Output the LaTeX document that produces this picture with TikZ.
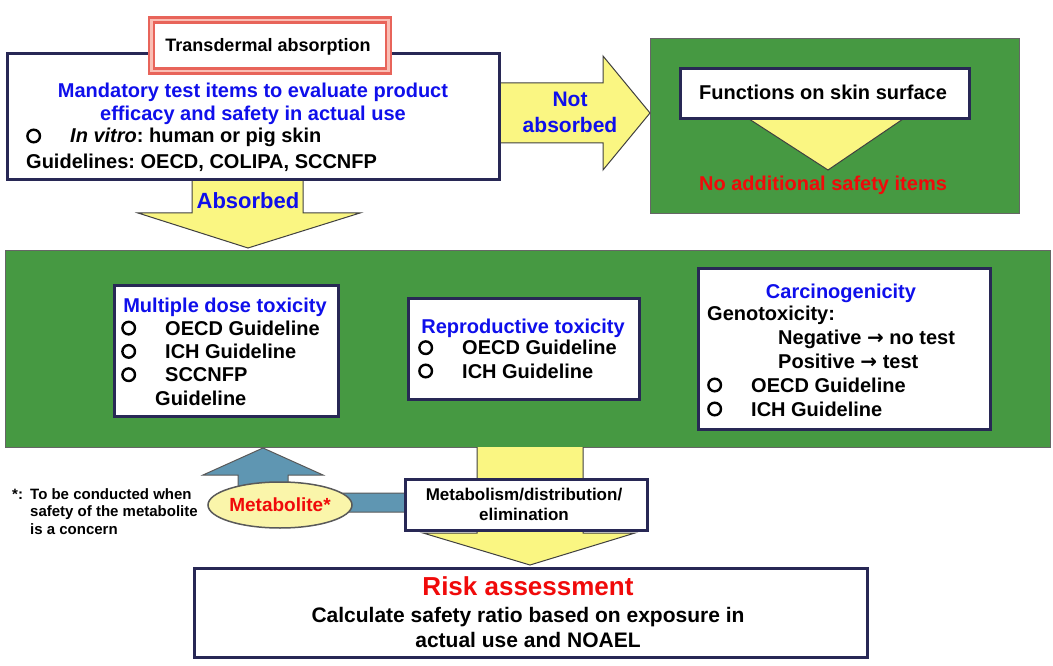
\documentclass[tikz,border=0pt]{standalone}
\usepackage{fontspec}
\setmainfont{Liberation Sans}
\newfontfamily\symfont{DejaVu Sans}
\usetikzlibrary{shapes.geometric}
\definecolor{leafgreen}{RGB}{70,153,66}
\definecolor{arrowyellow}{RGB}{250,246,130}
\definecolor{steelarrow}{RGB}{95,150,178}
\definecolor{boxnavy}{RGB}{40,40,85}
\definecolor{headblue}{RGB}{15,15,235}
\definecolor{alertred}{RGB}{240,10,10}
\definecolor{salmonred}{RGB}{232,100,90}
\definecolor{salmonpink}{RGB}{250,190,180}
\definecolor{ellfill}{RGB}{250,245,170}
\newcommand{\fsize}[2]{\fontsize{#1}{#2}\selectfont}
\newcommand{\ring}{\makebox[44pt][l]{\tikz[baseline=0pt]\draw[line width=2.4pt] (7.6pt,7pt) circle[radius=6.3pt];}}
\newcommand{\yields}{{\symfont →}}
\frenchspacing

\begin{document}
\begin{tikzpicture}[x=1pt,y=-1pt,inner sep=0pt]
\tikzstyle{greenbox}=[rectangle, anchor=north west, fill=leafgreen, draw=black!60, line width=1.2pt]
\tikzstyle{navybox}=[rectangle, anchor=north west, fill=white, draw=boxnavy, line width=3pt]
\tikzstyle{block}=[fill=arrowyellow, draw=black!75, line width=1pt, line join=miter]
\tikzstyle{txt}=[anchor=base, align=left, font=\bfseries\fsize{20}{23.3}]
\useasboundingbox (0,0) rectangle (1053,666);
% green panels
\node[greenbox, minimum width=369, minimum height=175] (skin) at (650,38) {};
\node[greenbox, minimum width=1045, minimum height=197] (tox) at (5,250) {};
% block arrows
\filldraw[block] (746,117) -- (906,117) -- (828,170) -- cycle;
\filldraw[block] (192,170) -- (192,213) -- (138,213) -- (248,248) -- (360,213) -- (303,213) -- (303,170);
\filldraw[block] (490,83) -- (603,83) -- (603,56) -- (650,113) -- (603,170) -- (603,143) -- (490,143);
\fill[arrowyellow] (477,447) -- (477,533) -- (423,533) -- (530,565) -- (635,533) -- (583,533) -- (583,447) -- cycle;
\draw[block, fill=none] (477,447) -- (477,533) -- (423,533) -- (530,565) -- (635,533) -- (583,533) -- (583,447);
\filldraw[block, fill=steelarrow, draw=black!65] (410,493) -- (288,493) -- (288,475) -- (323,475) -- (263,448) -- (203,475) -- (238,475) -- (238,512) -- (410,512);
% boxes
\node[navybox, minimum width=492, minimum height=126] (mand) at (6,52) {};
\node[rectangle, anchor=north west, fill=white, draw=salmonred, line width=2.5pt, double=salmonpink, double distance=2.5pt, minimum width=237, minimum height=51] (trans) at (150,19) {};
\node[navybox, minimum width=289, minimum height=50] (func) at (679,67) {};
\node[navybox, minimum width=224, minimum height=131] (multi) at (113,284) {};
\node[navybox, minimum width=231, minimum height=101] (repro) at (407,297) {};
\node[navybox, minimum width=292, minimum height=161] (carc) at (697,267) {};
\node[navybox, minimum width=242, minimum height=51] (metab) at (404,478) {};
\node[navybox, minimum width=673, minimum height=89] (risk) at (193,567) {};
\node[ellipse, fill=ellfill, draw=black!65, line width=1.5pt, minimum width=144, minimum height=46, text=alertred, font=\bfseries\fsize{19}{19}] (metabolite) at (280,505) {Metabolite*};
% texts (multi-line nodes sit on their last baseline)
\node[txt, font=\bfseries\fsize{18}{18}] (transtxt) at (268,52) {Transdermal absorption};
\node[txt, align=center, text=headblue] (mandhead) at (253,121) {Mandatory test items to evaluate product\\efficacy and safety in actual use};
\node[txt, anchor=base west, font=\bfseries\fsize{20}{25}] (manditems) at (26,168) {\ring\textit{In vitro}: human or pig skin\\Guidelines: OECD, COLIPA, SCCNFP};
\node[txt, font=\bfseries\fsize{22}{22}, text=headblue] (absorbed) at (248,208) {Absorbed};
\node[txt, align=center, font=\bfseries\fsize{21}{26}, text=headblue] (notabs) at (570,133) {Not\\absorbed};
\node[txt] (functxt) at (823,100) {Functions on skin surface};
\node[txt, text=alertred] (noitems) at (823,191) {No additional safety items};
\node[txt, text=headblue] (multihead) at (225,312) {Multiple dose toxicity};
\node[txt, anchor=base west] (multiitems) at (121,405) {\ring OECD Guideline\\\ring ICH Guideline\\\ring SCCNFP\\\hspace*{34pt}Guideline};
\node[txt, text=headblue] (reprohead) at (523,333) {Reproductive toxicity};
\node[txt, anchor=base west] (reproitems) at (418,378) {\ring OECD Guideline\\\ring ICH Guideline};
\node[txt, text=headblue] (carchead) at (841,298) {Carcinogenicity};
\node[txt, anchor=base west, font=\bfseries\fsize{20}{24}] (carcitems) at (707,416) {Genotoxicity:\\\hspace*{71pt}Negative \yields{} no test\\\hspace*{71pt}Positive \yields{} test\\\ring OECD Guideline\\\ring ICH Guideline};
\node[txt, anchor=base west, font=\bfseries\fsize{15}{17.5}] (note) at (12,534) {\makebox[18pt][l]{*:}To be conducted when\\\hspace*{18pt}safety of the metabolite\\\hspace*{18pt}is a concern};
\node[txt, align=center, font=\bfseries\fsize{17}{20}] (metabtxt) at (524,520) {Metabolism/distribution/\\elimination};
\node[txt, font=\bfseries\fsize{26}{26}, text=alertred] (risktitle) at (528,595) {Risk assessment};
\node[txt, align=center, font=\bfseries\fsize{21}{25}] (risktxt) at (528,647) {Calculate safety ratio based on exposure in\\actual use and NOAEL};
\end{tikzpicture}
\end{document}
